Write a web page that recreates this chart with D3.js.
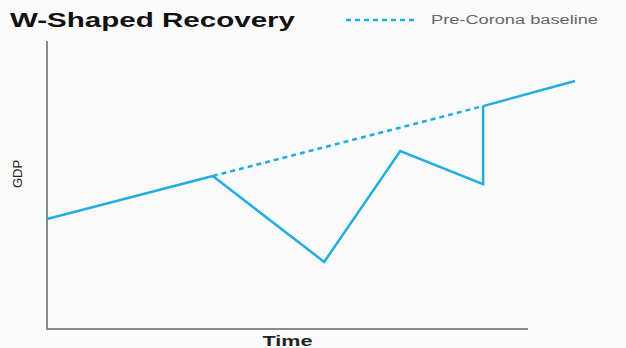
<!DOCTYPE html>
<html>
<head>
<meta charset="utf-8">
<script src="https://cdn.jsdelivr.net/npm/d3@7"></script>
<style>
  html, body { margin: 0; padding: 0; background: #fbfbfb; }
  svg { display: block; }
</style>
</head>
<body>
<svg id="chart" width="626" height="348"></svg>
<script>
// time (0-100) and GDP (0-100)
const baselineTime = [0, 31.4, 82.6, 100];
const baselineGdp  = [38.2, 53.1, 77.4, 86.1];
const recoveryTime = [31.4, 52.5, 66.9, 82.6, 82.6];
const recoveryGdp  = [53.1, 23.3, 61.8, 50.3, 77.4];
const axisEndTime = 91.1;

const color = '#22ade2';
const svg = d3.select('#chart');

const x = d3.scaleLinear().domain([0, 100]).range([47, 575]);
const y = d3.scaleLinear().domain([0, 100]).range([329, 41]);

const base = baselineTime.map((t, i) => ({ t, v: baselineGdp[i] }));
const rec = recoveryTime.map((t, i) => ({ t, v: recoveryGdp[i] }));

const line = d3.line().x(d => x(d.t)).y(d => y(d.v));

// Axes (plain lines, no ticks)
svg.append('line')
  .attr('x1', x(0)).attr('x2', x(0))
  .attr('y1', y(100)).attr('y2', y(0))
  .attr('stroke', '#8a8a8a').attr('stroke-width', 2);
svg.append('line')
  .attr('x1', x(0) - 1).attr('x2', x(axisEndTime))
  .attr('y1', y(0)).attr('y2', y(0))
  .attr('stroke', '#8a8a8a').attr('stroke-width', 2);

// Baseline: solid, dashed, solid
svg.append('path').datum(base.slice(0, 2))
  .attr('fill', 'none').attr('stroke', color).attr('stroke-width', 2.5)
  .attr('d', line);
svg.append('path').datum(base.slice(1, 3))
  .attr('fill', 'none').attr('stroke', color).attr('stroke-width', 2.5)
  .attr('stroke-dasharray', '5,4')
  .attr('d', line);
svg.append('path').datum(base.slice(2))
  .attr('fill', 'none').attr('stroke', color).attr('stroke-width', 2.5)
  .attr('d', line);

// W-shaped path
svg.append('path').datum(rec)
  .attr('fill', 'none').attr('stroke', color).attr('stroke-width', 2.5)
  .attr('d', line);

// Title
svg.append('text')
  .attr('x', 10).attr('y', 27)
  .attr('font-family', 'Liberation Sans, Arial, sans-serif')
  .attr('font-weight', 'bold')
  .attr('font-size', 21)
  .attr('textLength', 285).attr('lengthAdjust', 'spacingAndGlyphs')
  .attr('fill', '#111')
  .text('W-Shaped Recovery');

// Legend
svg.append('line')
  .attr('x1', 346).attr('x2', 418).attr('y1', 20).attr('y2', 20)
  .attr('stroke', color).attr('stroke-width', 2.5)
  .attr('stroke-dasharray', '5,4');
svg.append('text')
  .attr('x', 431).attr('y', 24)
  .attr('font-family', 'Liberation Sans, Arial, sans-serif')
  .attr('font-size', 12)
  .attr('textLength', 167).attr('lengthAdjust', 'spacingAndGlyphs')
  .attr('fill', '#666')
  .text('Pre-Corona baseline');

// Axis labels
svg.append('text')
  .attr('transform', 'translate(22,174) rotate(-90)')
  .attr('text-anchor', 'middle')
  .attr('font-family', 'Liberation Sans, Arial, sans-serif')
  .attr('font-size', 13)
  .attr('fill', '#222')
  .text('GDP');
svg.append('text')
  .attr('x', (x(0) + x(axisEndTime)) / 2).attr('y', 346)
  .attr('text-anchor', 'middle')
  .attr('font-family', 'Liberation Sans, Arial, sans-serif')
  .attr('font-weight', 'bold')
  .attr('font-size', 14)
  .attr('textLength', 50).attr('lengthAdjust', 'spacingAndGlyphs')
  .attr('fill', '#222')
  .text('Time');
</script>
</body>
</html>
